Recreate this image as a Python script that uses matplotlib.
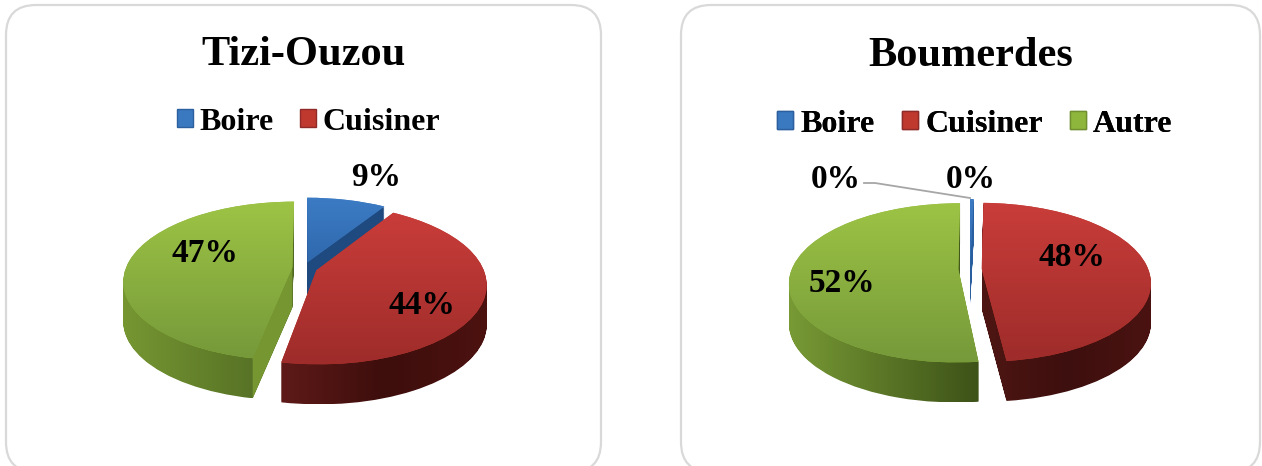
import numpy as np
import matplotlib
matplotlib.use("Agg")
import matplotlib.pyplot as plt
from matplotlib.colors import to_rgb
from matplotlib.patches import FancyBboxPatch, Patch, Polygon
from matplotlib.path import Path
from matplotlib.transforms import Transform, Affine2D, IdentityTransform

plt.rcParams['font.family'] = ['Liberation Serif', 'DejaVu Serif']

# ---- data ----
titles = ["Tizi-Ouzou", "Boumerdes"]
legend_tizi = ["Boire", "Cuisiner"]
legend_boum = ["Boire", "Cuisiner", "Autre"]
values_tizi = [9, 44, 47]
values_boum = [0.4, 0, 48, 52]
labels_tizi = ["9%", "44%", "47%"]
labels_boum = ["0%", "0%", "48%", "52%"]

# ---- style / layout ----
W, H = 1262, 466
BLUE, RED, GREEN = "#3a78c0", "#c0392f", "#8fb63c"
top_grad = {BLUE: ("#3c7cc4", "#2f68ad"), RED: ("#c93d3a", "#9e2c2a"), GREEN: ("#9dc445", "#76993a")}
side_tizi = {BLUE: ("#1f4a80", "#1f4a80"), RED: ("#5e1a18", "#3d0e0c", "#4c1210"), GREEN: ("#769632", "#4e6822")}
side_boum = {BLUE: ("#2a5f9f", "#2a5f9f"), RED: ("#4e1613", "#3d0f0e", "#4a1311"), GREEN: ("#789a35", "#3d5218")}
DEPTH = 40
A, B, K = 166.5, 77.2, 0.17


class Perspective(Transform):
    input_dims = output_dims = 2
    is_separable = False

    def transform_non_affine(self, values):
        v = np.asarray(values, float)
        w = 1 + K * v[:, 1]
        return np.column_stack([v[:, 0] / w, v[:, 1] / w])

    def inverted(self):
        return IdentityTransform()


def ramp(stops, n=128):
    c = np.array([to_rgb(s) for s in stops])
    p = np.linspace(0, 1, len(stops))
    t = np.linspace(0, 1, n)
    return np.column_stack([np.interp(t, p, c[:, i]) for i in range(3)])


def grad_image(ax, path, stops, horizontal, z):
    bb = path.get_extents()
    r = ramp(stops)
    img = r[None, :, :] if horizontal else r[:, None, :]
    im = ax.imshow(img, extent=(bb.x0, bb.x1, bb.y0, bb.y1), origin="upper",
                   aspect="auto", transform=IdentityTransform(),
                   interpolation="bilinear", zorder=z, clip_on=True)
    im.set_clip_path(path, IdentityTransform())


def draw_pie(cx, cy, values, explode, colors, side):
    left, bottom = cx - 3 * A, H - cy - 3 * B
    ax = fig.add_axes([left / W, bottom / H, 6 * A / W, 6 * B / H])
    wedges, _ = ax.pie(values, explode=explode, colors=colors, startangle=90,
                       counterclock=False, radius=1)
    ax.set_aspect("auto")
    ax.set_xlim(-3, 3)
    ax.set_ylim(-3, 3)
    ax.autoscale(False)
    to_px = Perspective() + ax.transData
    z = 2
    for w, c in zip(wedges, colors):
        if w.theta2 - w.theta1 <= 0:
            w.set_visible(False)
            continue
        base = to_px.transform_path(w.get_path())
        w.set_transform(to_px)
        w.set_linewidth(0)
        w.set_zorder(z + 2)
        layers = [base.transformed(Affine2D().translate(0, -d)) for d in range(1, DEPTH + 1)]
        grad_image(ax, Path.make_compound_path(*layers), side[c], True, z)
        # lighter straight cut face where the slice's near edge faces the viewer
        if c == GREEN and side is side_tizi:
            ang = np.deg2rad(w.theta2)
            cen = np.array(w.center)
            tip = cen + np.array([np.cos(ang), np.sin(ang)])
            p0, p1 = to_px.transform([cen, tip])
            ax.add_patch(Polygon([p0, p1, p1 - [0, DEPTH], p0 - [0, DEPTH]], closed=True,
                                 facecolor="#769632", edgecolor="none",
                                 transform=IdentityTransform(), zorder=z + 1))
        grad_image(ax, base, top_grad[c], False, z + 3)
        z += 5
    return ax


fig = plt.figure(figsize=(W / 100, H / 100), dpi=100)
bg = fig.add_axes([0, 0, 1, 1])
bg.set_xlim(0, W)
bg.set_ylim(H, 0)
bg.axis("off")
for x0, x1 in ((6, 601), (681, 1260)):
    bg.add_patch(FancyBboxPatch((x0 + 30, 5 + 30), x1 - x0 - 60, 472 - 5 - 60,
                                boxstyle="round,pad=30,rounding_size=30",
                                facecolor="white", edgecolor="#d9d9d9", linewidth=1.6))

draw_pie(304, 268, values_tizi, [0.08, 0.08, 0.07], [BLUE, RED, GREEN], side_tizi)
draw_pie(970, 269, values_boum, [0.07, 0, 0.07, 0.07], [BLUE, BLUE, RED, GREEN], side_boum)

top = fig.add_axes([0, 0, 1, 1])
top.set_xlim(0, W)
top.set_ylim(H, 0)
top.axis("off")
top.patch.set_alpha(0)

txt = dict(ha="center", va="center", fontweight="bold", color="black")
top.text(304, 55, titles[0], fontsize=30.5, **txt)
top.text(970.5, 56, titles[1], fontsize=30.5, **txt)
for lab, pos in zip(labels_tizi, [(376, 178), (422, 306), (205, 253)]):
    top.text(*pos, lab, fontsize=24, **txt)
for lab, pos in zip(labels_boum, [(836, 179), (971, 179), (1072, 257), (842, 284)]):
    top.text(*pos, lab, fontsize=24, **txt)
top.plot([864, 875, 970], [183, 183, 198], color="#a6a6a6", lw=1.3, solid_joinstyle="round")

edge = {BLUE: "#2c5f9e", RED: "#8e2a28", GREEN: "#6f8f30"}
colmap = dict(zip(legend_boum, [BLUE, RED, GREEN]))


def add_legend(names, xc, yc, spacing):
    handles = [Patch(facecolor=colmap[n], edgecolor=edge[colmap[n]], linewidth=1, label=n) for n in names]
    leg = top.legend(handles=handles, ncol=len(names), frameon=False, loc="center",
                     bbox_to_anchor=(xc / W, 1 - yc / H), bbox_transform=fig.transFigure,
                     prop=dict(size=23, weight="bold"), handlelength=0.5, handleheight=0.5,
                     handletextpad=0.22, columnspacing=spacing, borderpad=0, borderaxespad=0)
    top.add_artist(leg)


add_legend(legend_tizi, 308.5, 122, 0.8)
add_legend(legend_boum, 975, 124, 0.86)

fig.savefig("out.png", dpi=100)
